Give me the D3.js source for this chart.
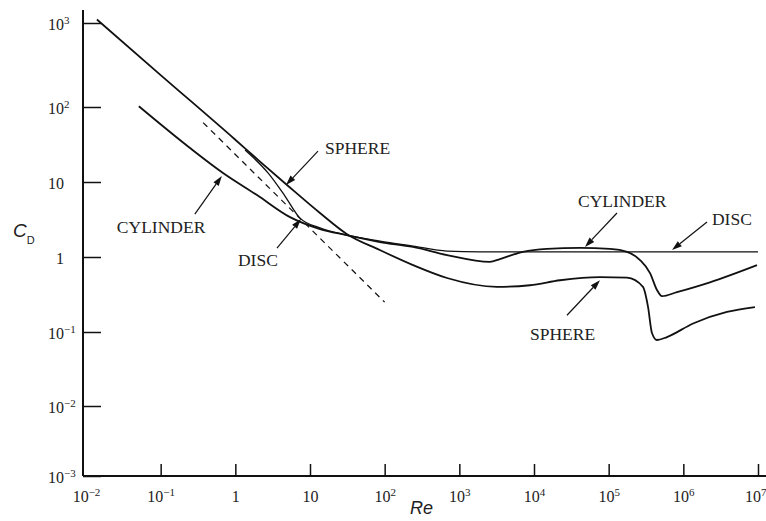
<!DOCTYPE html>
<html>
<head>
<meta charset="utf-8">
<script src="https://cdn.jsdelivr.net/npm/d3@7"></script>
<style>
  body { margin: 0; background: #fff; }
  svg { display: block; }
</style>
</head>
<body>
<svg id="chart" width="766" height="521"></svg>
<script>
// values: Reynolds number and drag coefficient
var sphereRe = [0.014, 0.1, 0.99, 2.14, 4.92, 13.6, 31, 86, 240, 684, 3190, 8830, 22300, 76500, 176000, 288000, 337000, 380000, 444000, 604000, 1.35e6, 3.84e6, 9.1e6]
var sphereCd = [1100, 240, 36.9, 18.7, 9.12, 3.86, 2.03, 1.24, 0.78, 0.525, 0.40, 0.42, 0.49, 0.54, 0.53, 0.40, 0.215, 0.097, 0.078, 0.0855, 0.13, 0.185, 0.215]

var cylinderRe = [0.051, 0.247, 0.684, 1.95, 5.4, 13.6, 31, 86.5, 239, 683, 2570, 3500, 7110, 14900, 41300, 104000, 176000, 263000, 358000, 444000, 518000, 822000, 2.27e6, 9.7e6]
var cylinderCd = [102, 28.4, 13.2, 6.7, 3.4, 2.36, 1.96, 1.58, 1.36, 1.06, 0.86, 0.94, 1.17, 1.28, 1.32, 1.28, 1.17, 0.91, 0.61, 0.363, 0.30, 0.34, 0.46, 0.78]

var discRe = [1.35, 2.74, 4.62, 7.35, 13.6, 31, 86.5, 239, 684, 1890, 1e7]
var discCd = [26.7, 13.2, 6.5, 3.3, 2.44, 1.96, 1.63, 1.40, 1.2, 1.17, 1.17]

// dashed Stokes line
var stokesRe = [0.37, 100]
var stokesCd = [62, 0.25]

var xTicks = [1e-2, 1e-1, 1, 10, 1e2, 1e3, 1e4, 1e5, 1e6, 1e7]
var yTicks = [1e-3, 1e-2, 1e-1, 1, 10, 1e2, 1e3]

// annotation labels and the curve point each arrow points at
var labelText = ['SPHERE', 'CYLINDER', 'DISC', 'CYLINDER', 'DISC', 'SPHERE']
var labelRe = [4.77, 0.66, 7.57, 48200, 705000, 76500]
var labelCd = [9.1, 12, 3.2, 1.36, 1.24, 0.49]

var svg = d3.select('#chart')
var ink = '#111'

var x = d3.scaleLog().domain([1e-2, 1e7]).range([86, 758])
// hand drawn figure: decades are not all the same height
var y = d3.scaleLog().domain(yTicks).range([476, 406, 332, 257, 182, 107, 23])

var axisX = 83, axisY = 476

// axis lines
svg.append('line')
  .attr('x1', axisX).attr('x2', axisX)
  .attr('y1', y(1e3) - 13).attr('y2', axisY)
  .attr('stroke', ink).attr('stroke-width', 2)
svg.append('line')
  .attr('x1', axisX).attr('x2', 766)
  .attr('y1', axisY).attr('y2', axisY)
  .attr('stroke', ink).attr('stroke-width', 2)

function expOf(d) { return Math.round(Math.log10(d)) }
function supText(e) { return e < 0 ? '\u2212' + (-e) : '' + e }

// x axis, ticks pointing up
var gx = svg.append('g')
  .attr('transform', 'translate(0,' + axisY + ')')
  .call(d3.axisBottom(x).tickValues(xTicks).tickSizeInner(-12).tickSizeOuter(0).tickFormat(''))
gx.select('.domain').remove()
gx.selectAll('.tick line').attr('stroke', ink).attr('stroke-width', 1.5)
gx.selectAll('.tick').filter(function(d) { return d === 1e-2 }).select('line').remove()
gx.selectAll('.tick text').remove()
gx.selectAll('.tick').each(function(d) {
  var e = expOf(d)
  var last = d === 1e7
  var t = d3.select(this).append('text')
    .attr('x', last ? 8 : 0)
    .attr('y', 26)
    .attr('text-anchor', last ? 'end' : 'middle')
    .attr('fill', '#222')
    .style('font-family', '"Liberation Serif", "DejaVu Serif", serif')
    .style('font-size', '16px')
  if (e === 0) { t.text('1'); return }
  t.append('tspan').text('10')
  if (e !== 1) t.append('tspan').attr('dy', -6).style('font-size', '11px').text(supText(e))
})

// y axis, ticks pointing right
var gy = svg.append('g')
  .attr('transform', 'translate(' + axisX + ',0)')
  .call(d3.axisRight(y).tickValues(yTicks).tickSizeInner(18).tickSizeOuter(0).tickFormat(''))
gy.select('.domain').remove()
gy.selectAll('.tick line').attr('stroke', ink).attr('stroke-width', 1.5)
gy.selectAll('.tick text').remove()
gy.selectAll('.tick').each(function(d) {
  var e = expOf(d)
  var g = d3.select(this)
  g.append('text')
    .attr('x', -19).attr('y', 6)
    .attr('text-anchor', 'end')
    .attr('fill', '#222')
    .style('font-family', '"Liberation Serif", "DejaVu Serif", serif')
    .style('font-size', '16px')
    .text(e === 0 ? '1' : '10')
  if (e !== 0 && e !== 1) {
    g.append('text')
      .attr('x', -19).attr('y', 0)
      .attr('fill', '#222')
      .style('font-family', '"Liberation Serif", "DejaVu Serif", serif')
      .style('font-size', '11px')
      .text(supText(e))
  }
})

// axis titles
var cd = svg.append('text')
  .attr('x', 13).attr('y', 237)
  .attr('fill', '#222')
  .style('font-family', '"Liberation Sans", Arial, sans-serif')
  .style('font-style', 'italic')
  .style('font-size', '19px')
cd.append('tspan').text('C')
cd.append('tspan').attr('dy', 7).style('font-size', '11px').style('font-style', 'normal').text('D')

svg.append('text')
  .attr('x', 410).attr('y', 514)
  .attr('fill', '#222')
  .style('font-family', '"Liberation Sans", Arial, sans-serif')
  .style('font-style', 'italic')
  .style('font-size', '18px')
  .text('Re')

// curves
var line = d3.line()
  .x(function(d) { return x(d[0]) })
  .y(function(d) { return y(d[1]) })
  .curve(d3.curveMonotoneX)

function pairs(a, b) { return a.map(function(v, i) { return [v, b[i]] }) }

var series = [
  { pts: pairs(sphereRe, sphereCd), dash: null, w: 1.8 },
  { pts: pairs(cylinderRe, cylinderCd), dash: null, w: 1.8 },
  { pts: pairs(discRe, discCd), dash: null, w: 1.3 },
  { pts: pairs(stokesRe, stokesCd), dash: '6,5', w: 1.2 }
]

svg.selectAll('path.curve')
  .data(series)
  .enter()
  .append('path')
  .attr('class', 'curve')
  .attr('d', function(s) { return line(s.pts) })
  .attr('fill', 'none')
  .attr('stroke', ink)
  .attr('stroke-width', function(s) { return s.w })
  .attr('stroke-dasharray', function(s) { return s.dash })

// arrows: tail offset and text offset from the tip, in pixels
var tailOff = [[32, -34], [-27, 38], [-24, 29], [32, -34], [35, -28], [-33, 35]]
var textOff = [[39, -31], [-105, 57], [-63, 47], [-7, -40], [40, -25], [-70, 60]]

labelText.forEach(function(txt, i) {
  var tx = x(labelRe[i]), ty = y(labelCd[i])
  var sx = tx + tailOff[i][0], sy = ty + tailOff[i][1]
  var ang = Math.atan2(ty - sy, tx - sx)
  var len = 10, hw = 3.2
  var bx = tx - len * Math.cos(ang), by = ty - len * Math.sin(ang)

  svg.append('line')
    .attr('x1', sx).attr('y1', sy)
    .attr('x2', bx).attr('y2', by)
    .attr('stroke', ink).attr('stroke-width', 1.2)

  svg.append('polygon')
    .attr('points', [
      [tx, ty],
      [bx + hw * Math.sin(ang), by - hw * Math.cos(ang)],
      [bx - hw * Math.sin(ang), by + hw * Math.cos(ang)]
    ].map(function(p) { return p.join(',') }).join(' '))
    .attr('fill', ink)

  svg.append('text')
    .attr('x', tx + textOff[i][0]).attr('y', ty + textOff[i][1])
    .attr('fill', '#222')
    .style('font-family', '"Liberation Serif", "DejaVu Serif", serif')
    .style('font-size', '17.5px')
    .text(txt)
})
</script>
</body>
</html>
